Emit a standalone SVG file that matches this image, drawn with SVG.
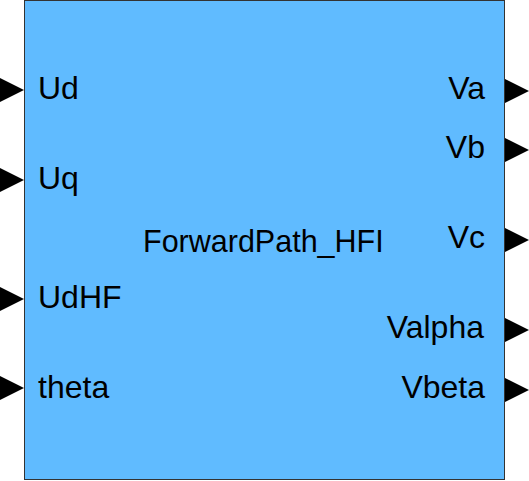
<svg xmlns="http://www.w3.org/2000/svg" width="529" height="481" viewBox="0 0 529 481">
<style>
.lbl{font-family:"Liberation Sans",Arial,sans-serif;font-size:32px;fill:#000}
.c{font-size:30.5px}
.r{text-anchor:end}
.port{fill:#000}
</style>
<rect width="529" height="481" fill="#fff"/>
<g id="block">
<rect x="24.5" y="0.5" width="480" height="479" fill="#60bbff" stroke="#333" stroke-width="1"/>
<text class="lbl c" x="143" y="252">ForwardPath_HFI</text>
</g>
<g id="connectors">
<polygon class="port" points="0,78 24,90 0,102"/>
<polygon class="port" points="0,168 24,180 0,192"/>
<polygon class="port" points="0,287 24,299 0,311"/>
<polygon class="port" points="0,376 24,388 0,400"/>
<polygon class="port" points="505,79 529,91 505,103"/>
<polygon class="port" points="505,138 529,150 505,162"/>
<polygon class="port" points="505,228 529,240 505,252"/>
<polygon class="port" points="505,318 529,330 505,342"/>
<polygon class="port" points="505,378 529,390 505,402"/>
</g>
<g id="in-ports">
<text class="lbl" x="38" y="99">Ud</text>
<text class="lbl" x="38" y="189">Uq</text>
<text class="lbl" x="38" y="308">UdHF</text>
<text class="lbl" x="38" y="398">theta</text>
</g>
<g id="out-ports">
<text class="lbl r" x="485" y="99">Va</text>
<text class="lbl r" x="485" y="158">Vb</text>
<text class="lbl r" x="485" y="248">Vc</text>
<text class="lbl r" x="484" y="338">Valpha</text>
<text class="lbl r" x="485" y="398">Vbeta</text>
</g>
</svg>
